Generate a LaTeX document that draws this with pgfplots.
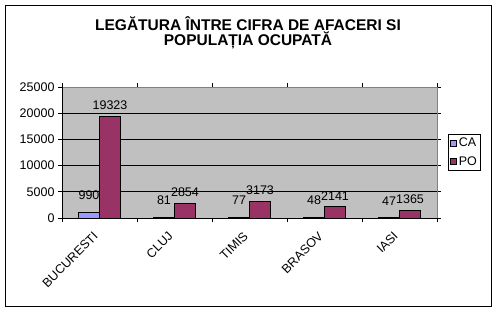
\documentclass[border=0pt]{standalone}
\usepackage{pgfplots}
\pgfplotsset{compat=1.18}
\usepackage{fontspec}
\setmainfont{Liberation Sans}
\definecolor{caC}{RGB}{153,153,255}
\definecolor{poC}{RGB}{153,51,102}
\definecolor{plotbg}{RGB}{192,192,192}
\definecolor{frameg}{RGB}{128,128,128}
\begin{document}
\begin{tikzpicture}[x=1pt,y=1pt]
\path[use as bounding box] (0,0) rectangle (497,312);
\fill[white] (0,0) rectangle (497,312);
\draw[black, line width=1pt] (5.5,5.5) rectangle (491,306.5);
\node[font=\bfseries\fontsize{15.5}{15.5}\selectfont, align=center] at (248,279) {LEGĂTURA ÎNTRE CIFRA DE AFACERI SI\\POPULAȚIA OCUPATĂ};
\begin{axis}[
  at={(62pt,94pt)}, anchor=south west,
  scale only axis, width=375pt, height=131pt,
  xmin=-0.5, xmax=4.5, ymin=0, ymax=25000,
  scaled y ticks=false,
  axis background/.style={fill=plotbg},
  axis line style={draw=frameg, line width=0.8pt},
  ybar, bar width=21pt,
  ytick={0,5000,...,25000},
  ymajorgrids, grid style={black, line width=0.8pt},
  xtick={0,...,4}, xticklabels={BUCURESTI,CLUJ,TIMIS,BRASOV,IASI},
  x tick label style={xshift=-7pt, yshift=-4pt, rotate=45, anchor=north east, font=\fontsize{12.5}{14}\selectfont},
  y tick label style={font=\fontsize{12.5}{14}\selectfont},
  major x tick style={draw=none},
  extra x ticks={-0.5,0.5,1.5,2.5,3.5,4.5}, extra x tick labels={},
  extra x tick style={major x tick style={draw=black, line width=0.8pt}, grid=none},
  tick align=outside, major tick length=4pt,
  ytick style={black, line width=0.8pt},
  /pgf/number format/.cd, 1000 sep={}, assume math mode=true, /pgfplots/.cd,
  legend style={at={(1.03,0.5)}, anchor=west, draw=black, line width=0.8pt,
    font=\fontsize{12.5}{14}\selectfont, inner sep=1.5pt, row sep=4pt},
  legend cell align=left,
  nodes near coords,
  every node near coord/.append style={font=\fontsize{12.5}{14}\selectfont, black},
  clip=false,
]
\addplot[fill=caC, draw=black, line width=0.8pt, bar shift=-10.5pt,
  every node near coord/.append style={yshift=9pt},
  legend image code/.code={\draw[fill=caC, draw=black, line width=0.6pt] (0pt,-3pt) rectangle (6pt,3pt);}]
  coordinates {(0,990) (1,81) (2,77) (3,48) (4,47)};
\addplot[fill=poC, draw=black, line width=0.8pt, bar shift=10.5pt,
  every node near coord/.append style={yshift=3pt},
  legend image code/.code={\draw[fill=poC, draw=black, line width=0.6pt] (0pt,-3pt) rectangle (6pt,3pt);}]
  coordinates {(0,19323) (1,2854) (2,3173) (3,2141) (4,1365)};
\legend{CA,PO}
\draw[black, line width=0.8pt] (rel axis cs:0,0) -- (rel axis cs:0,1);
\draw[black, line width=0.8pt] (rel axis cs:0,0) -- (rel axis cs:1,0);
\end{axis}
\end{tikzpicture}
\end{document}
